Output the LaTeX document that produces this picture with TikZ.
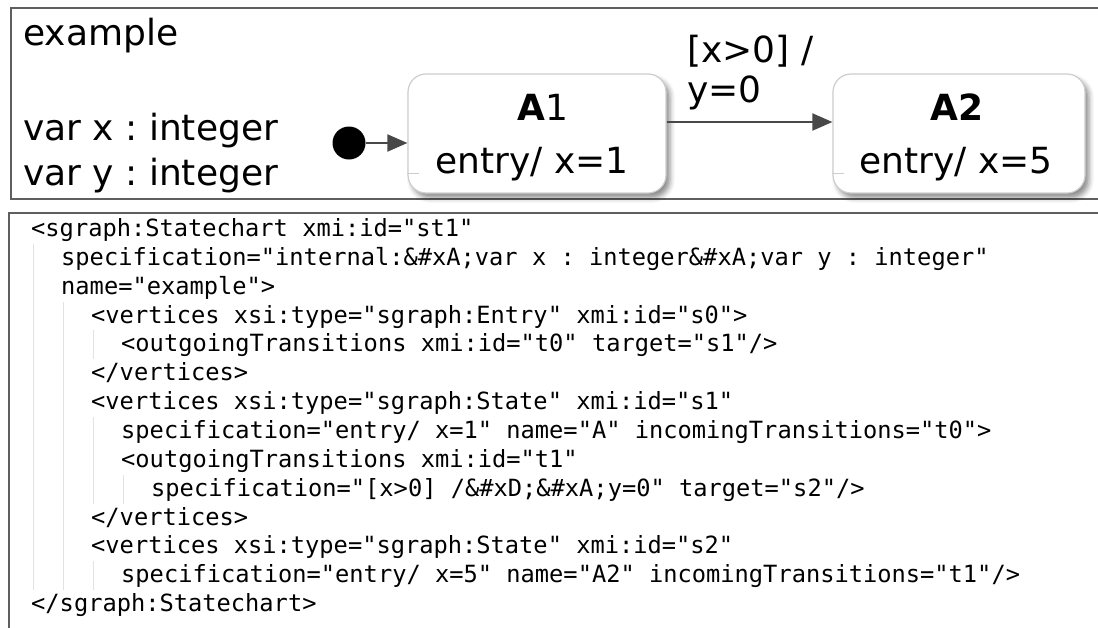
\documentclass[tikz,border=0pt]{standalone}
\usepackage{fontspec}
\setmainfont{DejaVu Sans}
\newfontfamily\codefont{DejaVu Sans Mono}
\usetikzlibrary{arrows.meta,shadows.blur}
\frenchspacing

\definecolor{framegray}{RGB}{95,95,95}
\definecolor{statebd}{RGB}{205,205,205}
\definecolor{arrowgray}{RGB}{72,72,72}
\definecolor{guidegray}{RGB}{226,226,226}

\tikzset{
  frame/.style={draw=framegray, line width=1.6pt},
  statebox/.style={draw=statebd, line width=1.2pt, fill=white,
    rounded corners=18pt, inner sep=0pt,
    blur shadow={shadow xshift=4pt, shadow yshift=-5pt,
      shadow blur radius=5pt, shadow opacity=45}},
  bigtext/.style={inner sep=0pt, anchor=base,
    font=\fontsize{36pt}{43pt}\selectfont\frenchspacing},
  leftbig/.style={bigtext, anchor=base west},
  codeline/.style={inner sep=0pt, anchor=base west,
    font=\codefont\fontsize{23.7pt}{28.85pt}\selectfont\frenchspacing},
  trans/.style={draw=arrowgray, line width=2pt,
    -{Triangle[length=20pt, width=17pt]}},
  guide/.style={draw=guidegray, line width=1pt},
  initdot/.style={circle, fill=black, minimum size=33pt, inner sep=0pt}
}

\begin{document}
\begin{tikzpicture}[x=1pt, y=-1pt]
  \path[use as bounding box, clip] (0,0) rectangle (1098,627);

  % statechart frame with its name and declarations
  \draw[frame] (11,8) rectangle (1110,199);
  \node[leftbig] (title) at (23,45) {example};
  \node[leftbig] (declx) at (23,140) {var x : integer};
  \node[leftbig] (decly) at (23,185) {var y : integer};

  % states
  \node[statebox, minimum width=258pt, minimum height=119pt] (a1) at (537,133.5) {};
  \node[statebox, minimum width=252pt, minimum height=119pt] (a2) at (959,133.5) {};
  \draw[statebd, line width=1pt] ([yshift=-39.5pt]a1.west) -- ++(12,0);
  \draw[statebd, line width=1pt] ([yshift=-39.5pt]a2.west) -- ++(12,0);

  \node[bigtext] (a1name)  at (543,120) {\textbf{A}1};
  \node[bigtext] (a1entry) at (532,173) {entry/ x=1};
  \node[bigtext] (a2name)  at (957,120) {\textbf{A2}};
  \node[bigtext] (a2entry) at (956,173) {entry/ x=5};

  % initial pseudo-state and transitions
  \node[initdot] (init) at (349,143) {};
  \draw[trans] (init.east) -- (init.east -| a1.west);
  \draw[trans] ([yshift=11.5pt]a1.east) -- ([yshift=11.5pt]a2.west);
  \node[leftbig] (guard)  at (687,62)  {[x>0] /};
  \node[leftbig] (action) at (687,102) {y=0};

  % serialized model listing
  \draw[frame] (9,213) rectangle (1110,640);

  % indentation guides
  \draw[guide] (33,243.9) -- (33,590.1);
  \draw[guide] (63,301.6) -- (63,590.1);
  \draw[guide] (93,330.4) -- (93,359.3);
  \draw[guide] (93,417.0) -- (93,503.6);
  \draw[guide] (93,561.2) -- (93,590.1);
  \draw[guide] (123,474.7) -- (123,503.6);

  \node[codeline] (c1)  at (31,236.5)  {<sgraph:Statechart xmi:id="st1"};
  \node[codeline] (c2)  at (61,265.35) {specification="internal:\&\#xA;var x : integer\&\#xA;var y : integer"};
  \node[codeline] (c3)  at (61,294.2)  {name="example">};
  \node[codeline] (c4)  at (91,323.05) {<vertices xsi:type="sgraph:Entry" xmi:id="s0">};
  \node[codeline] (c5)  at (121,351.9) {<outgoingTransitions xmi:id="t0" target="s1"/>};
  \node[codeline] (c6)  at (91,380.75) {</vertices>};
  \node[codeline] (c7)  at (91,409.6)  {<vertices xsi:type="sgraph:State" xmi:id="s1"};
  \node[codeline] (c8)  at (121,438.45) {specification="entry/ x=1" name="A" incomingTransitions="t0">};
  \node[codeline] (c9)  at (121,467.3) {<outgoingTransitions xmi:id="t1"};
  \node[codeline] (c10) at (151,496.15) {specification="[x>0] /\&\#xD;\&\#xA;y=0" target="s2"/>};
  \node[codeline] (c11) at (91,525.0)  {</vertices>};
  \node[codeline] (c12) at (91,553.85) {<vertices xsi:type="sgraph:State" xmi:id="s2"};
  \node[codeline] (c13) at (121,582.7) {specification="entry/ x=5" name="A2" incomingTransitions="t1"/>};
  \node[codeline] (c14) at (31,611.55) {</sgraph:Statechart>};
\end{tikzpicture}
\end{document}
